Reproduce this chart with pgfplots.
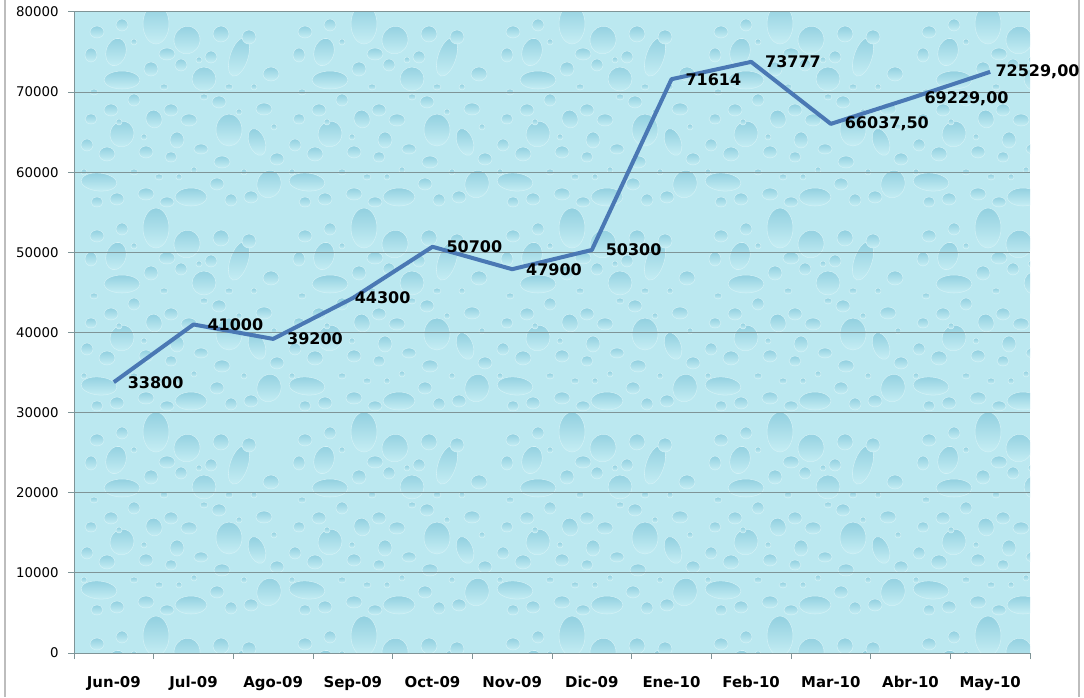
\documentclass[border=0pt]{standalone}
\usepackage{pgfplots}
\pgfplotsset{compat=1.18}
\usepackage{pgfplotstable}
\usepackage{fontspec}
\setmainfont{DejaVu Sans}
\definecolor{bgblue}{HTML}{BBE8F0}
\definecolor{dropdark}{HTML}{92D0E0}
\definecolor{droplight}{HTML}{C6EEF4}
\definecolor{droprim}{HTML}{D2F1F6}
\definecolor{gridgrey}{HTML}{7F9497}
\definecolor{linecol}{HTML}{4A78B4}
\definecolor{framegrey}{HTML}{BDBDBD}
\pgfplotstableread{
x y lab
0 33800 33800
1 41000 41000
2 39200 39200
3 44300 44300
4 50700 50700
5 47900 47900
6 50300 50300
7 71614 71614
8 73777 73777
9 66037.5 66037,50
10 69229 69229,00
11 72529 72529,00
}\salesdata
\begin{document}
\begin{tikzpicture}
\path[use as bounding box] (0pt,0pt) rectangle (813pt,522.75pt);
\begin{scope}[x=0.75pt,y=-0.75pt,yshift=522.75pt]
\draw[framegrey,line width=1.5pt] (5,0) -- (5,697);
\draw[framegrey,line width=1.5pt] (1079,0) -- (1079,697);
\fill[bgblue] (74,12) rectangle (1030,653);
\begin{scope}
\clip (74,12) rectangle (1030,653);
\foreach \tx in {0,1,2,3,4}{
 \foreach \ty in {0,1,2,3}{
  \begin{scope}[shift={(74+208*\tx,12+204*\ty)}]
  \foreach \cx/\cy/\rx/\ry/\rot in {
    82/12/13/20/0,113/28/13/14/-15,42/40/10/14/-15,48/68/18/9/0,165/45/9/20/-18,130/67/12/12/-20,
    48/122/12/13/-15,155/118/13/16/0,183/130/8/14/20,117/185/16/9/0,25/170/18/9/-5,195/172/12/14/-15,
    23/20/7/6/0,48/13/6/6/0,147/22/8/8/20,175/25/7/7/0,93/42/8/6/0,137/45/6/6/0,17/43/6/7/0,77/57/7/7/0,
    107/53/6/6/0,197/62/8/7/0,60/88/6/6/0,37/98/7/6/0,97/98/7/6/0,17/107/6/5/0,80/107/8/9/20,115/108/8/6/0,
    145/90/7/6/0,190/97/8/6/0,103/128/7/8/0,13/133/6/6/0,33/142/8/7/0,72/140/7/6/0,127/137/7/5/0,97/145/6/5/0,
    148/150/8/6/0,203/147/7/6/0,72/182/8/6/0,93/190/7/5/0,43/187/7/6/0,23/190/6/5/0,143/172/7/6/0,157/188/6/6/0,177/185/7/6/0,
    60/30/3/3/0,125/48/3/3/0,90/75/4/3/0,155/75/4/3/0,180/75/3/3/0,20/80/4/3/0,45/110/3/3/0,130/85/4/3/0,165/100/3/3/0,
    70/125/3/3/0,10/160/3/3/0,60/160/4/3/0,105/165/3/3/0,120/158/3/3/0,170/160/3/3/0,85/165/4/3/0,200/115/3/3/0}{
    \shade[draw=droprim,line width=0.4pt,top color=dropdark,bottom color=droplight,rotate around={\rot:(\cx,\cy)}]
      (\cx,\cy) ellipse [x radius=\rx,y radius=\ry];
  }
  \end{scope}
 }
}
\end{scope}
\end{scope}
\begin{axis}[
  at={(55.5pt,33pt)},anchor=south west,
  scale only axis,width=717pt,height=480.75pt,
  xmin=-0.5,xmax=11.5,ymin=0,ymax=80000,
  axis x line*=bottom,axis y line*=left,
  axis line style={draw=gridgrey,line width=0.75pt,-},
  xtick={0,...,11},
  xticklabels={Jun-09,Jul-09,Ago-09,Sep-09,Oct-09,Nov-09,Dic-09,Ene-10,Feb-10,Mar-10,Abr-10,May-10},
  xticklabel style={font=\fontsize{11.2}{12}\selectfont\bfseries,text height=9pt,text depth=0pt,yshift=-9pt},
  major x tick style={draw=none},
  minor xtick={-0.5,0.5,...,11.5},
  minor tick length=4.5pt,
  minor x tick style={draw=gridgrey,line width=0.75pt},
  ytick={0,10000,...,80000},
  ymajorgrids,
  grid style={draw=gridgrey,line width=0.75pt},
  major y tick style={draw=gridgrey,line width=0.75pt},
  major tick length=4.5pt,
  tick align=outside,
  yticklabel style={font=\fontsize{10}{12}\selectfont,xshift=-3.5pt,/pgf/number format/assume math mode=true,/pgf/number format/fixed,/pgf/number format/1000 sep={}},
  scaled y ticks=false,
  clip=false,
]
\addplot[linecol,line width=3pt,line join=round,
  nodes near coords,
  point meta=explicit symbolic,
  every node near coord/.style={anchor=west,inner sep=0pt,xshift=9pt,text=black,
    font=\fontsize{12}{14}\selectfont\bfseries},
  coordinate style/.condition={x==3}{xshift=-9pt},
  coordinate style/.condition={x==11}{xshift=-6.5pt},
] table[x=x,y=y,meta=lab] {\salesdata};
\end{axis}
\end{tikzpicture}
\end{document}
